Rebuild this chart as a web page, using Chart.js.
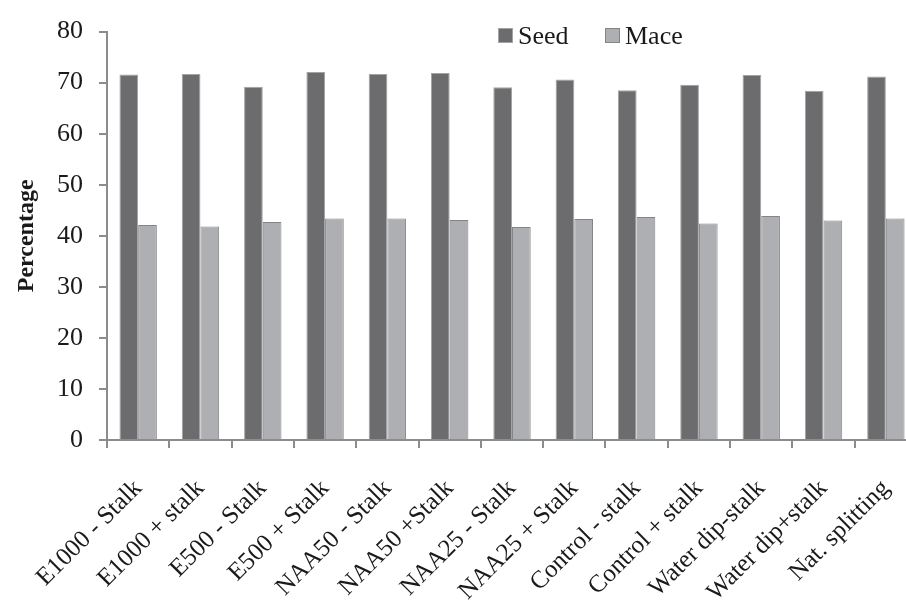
<!DOCTYPE html>
<html>
<head>
<meta charset="utf-8">
<script src="https://cdn.jsdelivr.net/npm/chart.js@4/dist/chart.umd.min.js"></script>
<style>
  html, body { margin: 0; padding: 0; background: #fff; overflow: hidden; width: 906px; height: 604px; }
  canvas { display: block; }
</style>
</head>
<body>
<canvas id="chart" width="920" height="604"></canvas>
<script>
// Data
const categories = [
  "E1000 - Stalk", "E1000 + stalk", "E500 - Stalk", "E500 + Stalk",
  "NAA50 - Stalk", "NAA50 +Stalk", "NAA25 - Stalk", "NAA25 + Stalk",
  "Control - stalk", "Control + stalk", "Water dip-stalk", "Water dip+stalk",
  "Nat. splitting"
];
const seedValues = [71.6, 71.7, 69.2, 72.1, 71.7, 71.9, 69.1, 70.6, 68.5, 69.6, 71.5, 68.4, 71.2];
const maceValues = [42.1, 41.8, 42.7, 43.4, 43.4, 43.1, 41.7, 43.3, 43.7, 42.4, 43.9, 43.0, 43.4];
const yTicks = [0, 10, 20, 30, 40, 50, 60, 70, 80];

const serif = "'Liberation Serif', serif";
const axisGray = "#8c8c8c";

// legend drawn inside the plot, near the top
const legendPlugin = {
  id: "insideLegend",
  afterDraw(chart) {
    const ctx = chart.ctx;
    const items = [
      { x: 498, ds: chart.data.datasets[0] },
      { x: 605, ds: chart.data.datasets[1] }
    ];
    ctx.save();
    ctx.font = "26px " + serif;
    ctx.textBaseline = "alphabetic";
    items.forEach(it => {
      ctx.fillStyle = it.ds.backgroundColor;
      ctx.fillRect(it.x, 28, 15, 15);
      ctx.strokeStyle = it.ds.borderColor;
      ctx.lineWidth = 1;
      ctx.strokeRect(it.x + 0.5, 28.5, 14, 14);
      ctx.fillStyle = "#1a1a1a";
      ctx.fillText(it.ds.label, it.x + 20, 44);
    });
    ctx.restore();
  }
};

new Chart(document.getElementById("chart"), {
  type: "bar",
  data: {
    labels: categories,
    datasets: [
      { label: "Seed", data: seedValues, backgroundColor: "#6c6c6e", borderColor: "#a3a3a5", borderWidth: 1 },
      { label: "Mace", data: maceValues, backgroundColor: "#aeafb2", borderColor: "#848486", borderWidth: 1 }
    ]
  },
  options: {
    responsive: false,
    animation: false,
    layout: { padding: { top: 24, right: 3, left: 0, bottom: 0 } },
    datasets: { bar: { barPercentage: 1, categoryPercentage: 0.6 } },
    plugins: { legend: { display: false }, tooltip: { enabled: false } },
    scales: {
      x: {
        grid: { drawOnChartArea: false, color: axisGray, tickLength: 8, lineWidth: 2 },
        border: { color: axisGray, width: 2 },
        ticks: {
          color: "#1a1a1a",
          font: { family: serif, size: 25 },
          minRotation: 45, maxRotation: 45, padding: 26
        },
        afterFit(scale) {
          scale.height = 164;
          scale.paddingLeft = 0;
          scale.paddingRight = 0;
        }
      },
      y: {
        min: 0, max: 80,
        afterBuildTicks(scale) { scale.ticks = yTicks.map(v => ({ value: v })); },
        grid: { drawOnChartArea: false, color: axisGray, tickLength: 8, lineWidth: 2 },
        border: { color: axisGray, width: 2 },
        ticks: { color: "#1a1a1a", font: { family: serif, size: 26 }, padding: 16 },
        title: {
          display: true, text: "Percentage", color: "#1a1a1a",
          font: { family: serif, size: 24, weight: "bold" }, padding: { top: 12, bottom: 4 }
        },
        afterFit(scale) { scale.width = 107; }
      }
    }
  },
  plugins: [legendPlugin]
});
</script>
</body>
</html>
